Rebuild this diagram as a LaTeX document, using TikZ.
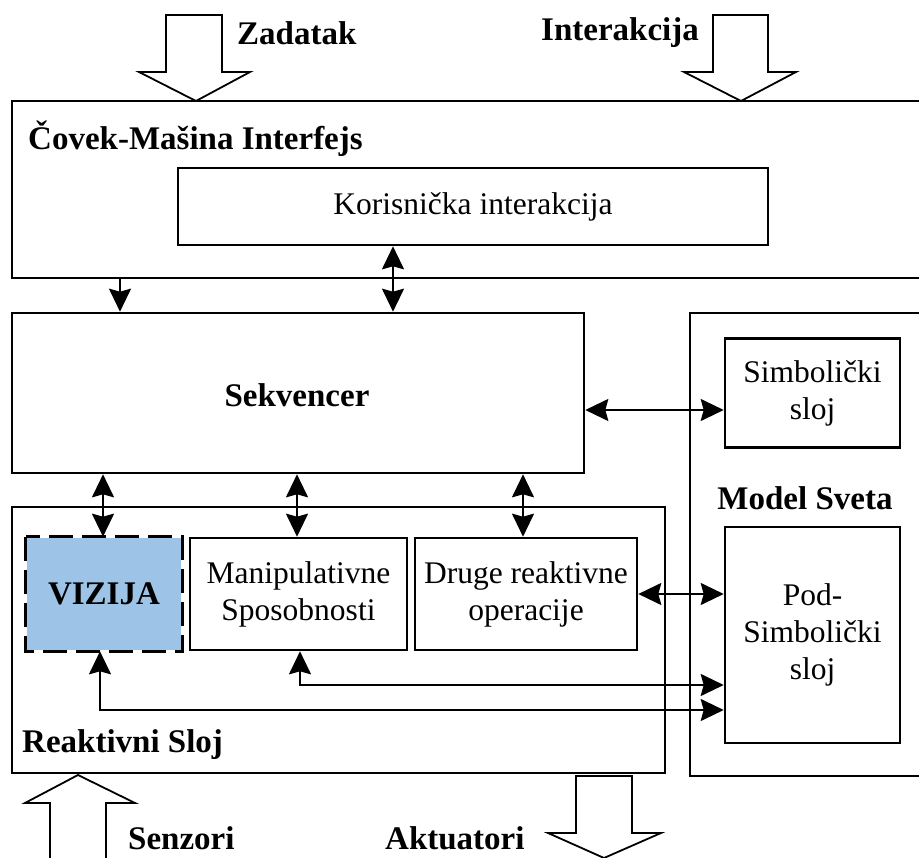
\documentclass[tikz,border=0pt]{standalone}
\usepackage{fontspec}
\setmainfont{Liberation Serif}
\usetikzlibrary{arrows.meta}
\definecolor{vizblue}{HTML}{9DC3E6}
\begin{document}
\begin{tikzpicture}[x=1pt,y=-1pt,
  box/.style={draw,line width=2.6pt,inner sep=0pt,align=center,
    font=\fontsize{31.5}{37}\selectfont},
  outer/.style={draw,line width=2.6pt,inner sep=0pt},
  title/.style={inner sep=0pt,font=\fontsize{33}{38}\selectfont\bfseries},
  tip/.tip={Stealth[length=23pt,width=22pt,inset=3pt]},
  conn/.style={line width=2.2pt,tip-tip},
  conn1/.style={line width=2.2pt,-tip},
  blockarrow/.style={draw,line width=1.8pt,fill=white,line join=miter}]
\useasboundingbox (0,0) rectangle (919,858);
\clip (0,0) rectangle (919,858);

% outer layers
\node[outer,minimum width=935pt,minimum height=177pt] (hmi) at (479.5,189.5) {};
\node[outer,minimum width=572pt,minimum height=160pt] (sek) at (298,393) {};
\node[outer,minimum width=653pt,minimum height=266pt] (rea) at (338.5,640) {};
\node[outer,minimum width=250pt,minimum height=463pt] (mod) at (815,544.5) {};

% inner boxes
\node[box,minimum width=590pt,minimum height=77pt] (kor) at (473,206.5) {Korisnička interakcija};
\node[box,minimum width=175pt,minimum height=109pt] (sim) at (812.5,393) {Simbolički\\sloj};
\node[box,minimum width=175pt,minimum height=216pt] (pod) at (812.5,635) {Pod-\\Simbolički\\sloj};
\node[box,draw=none,fill=vizblue,minimum width=154pt,minimum height=112pt,font=\fontsize{33}{38}\selectfont\bfseries] (viz) at (104,594) {VIZIJA};
\draw[line width=2.6pt,dash pattern=on 24pt off 9pt] (viz.north west) rectangle (viz.south east);
\node[box,minimum width=217pt,minimum height=112pt] (man) at (298.5,594) {Manipulativne\\Sposobnosti};
\node[box,minimum width=222pt,minimum height=112pt] (dru) at (526,594) {Druge reaktivne\\operacije};

% titles
\node[title,anchor=west] (thmi) at (28,139) {Čovek-Mašina Interfejs};
\node[title] (tsek) at (297,395) {Sekvencer};
\node[title] (tmod) at (805,498) {Model Sveta};
\node[title,anchor=west] (trea) at (22,745) {Reaktivni Sloj};
\node[title,anchor=west] (tzad) at (237,33) {Zadatak};
\node[title,anchor=west] (tint) at (541,33) {Interakcija};
\node[title,anchor=west] (tsen) at (128,838) {Senzori};
\node[title,anchor=west] (takt) at (385,838) {Aktuatori};

% connector positions
\coordinate (xa) at (120,0);
\coordinate (xb) at (393,0);
\coordinate (xv) at (103,0);
\coordinate (xm) at (297,0);
\coordinate (xd) at (523,0);
\coordinate (ys) at (0,410);
\coordinate (yd) at (0,594);
\coordinate (xmb) at (300,0);
\coordinate (xvb) at (100,0);
\coordinate (ym) at (0,685);
\coordinate (yv) at (0,710);

\draw[conn1] (xa |- hmi.south) -- (xa |- sek.north);
\draw[conn] (xb |- kor.south) -- (xb |- sek.north);
\draw[conn] (sek.east |- ys) -- (sim.west |- ys);
\draw[conn] (xv |- sek.south) -- (xv |- viz.north);
\draw[conn] (xm |- sek.south) -- (xm |- man.north);
\draw[conn] (xd |- sek.south) -- (xd |- dru.north);
\draw[conn] (dru.east |- yd) -- (pod.west |- yd);
\draw[conn] (xmb |- man.south) |- (pod.west |- ym);
\draw[conn] (xvb |- viz.south) |- (pod.west |- yv);

% block arrows for inputs and outputs
\draw[blockarrow] (166,15) -- (222,15) -- (222,72) -- (250,72) -- (196,101) -- (139,72) -- (166,72) -- cycle;
\draw[blockarrow] (713,15) -- (768,15) -- (768,72) -- (796,72) -- (741,101) -- (684,72) -- (713,72) -- cycle;
\draw[blockarrow] (78,775) -- (135,803) -- (106,803) -- (106,875) -- (50,875) -- (50,803) -- (25,803) -- cycle;
\draw[blockarrow] (576,776) -- (632,776) -- (632,833) -- (661,833) -- (604,858) -- (548,833) -- (576,833) -- cycle;
\end{tikzpicture}
\end{document}
